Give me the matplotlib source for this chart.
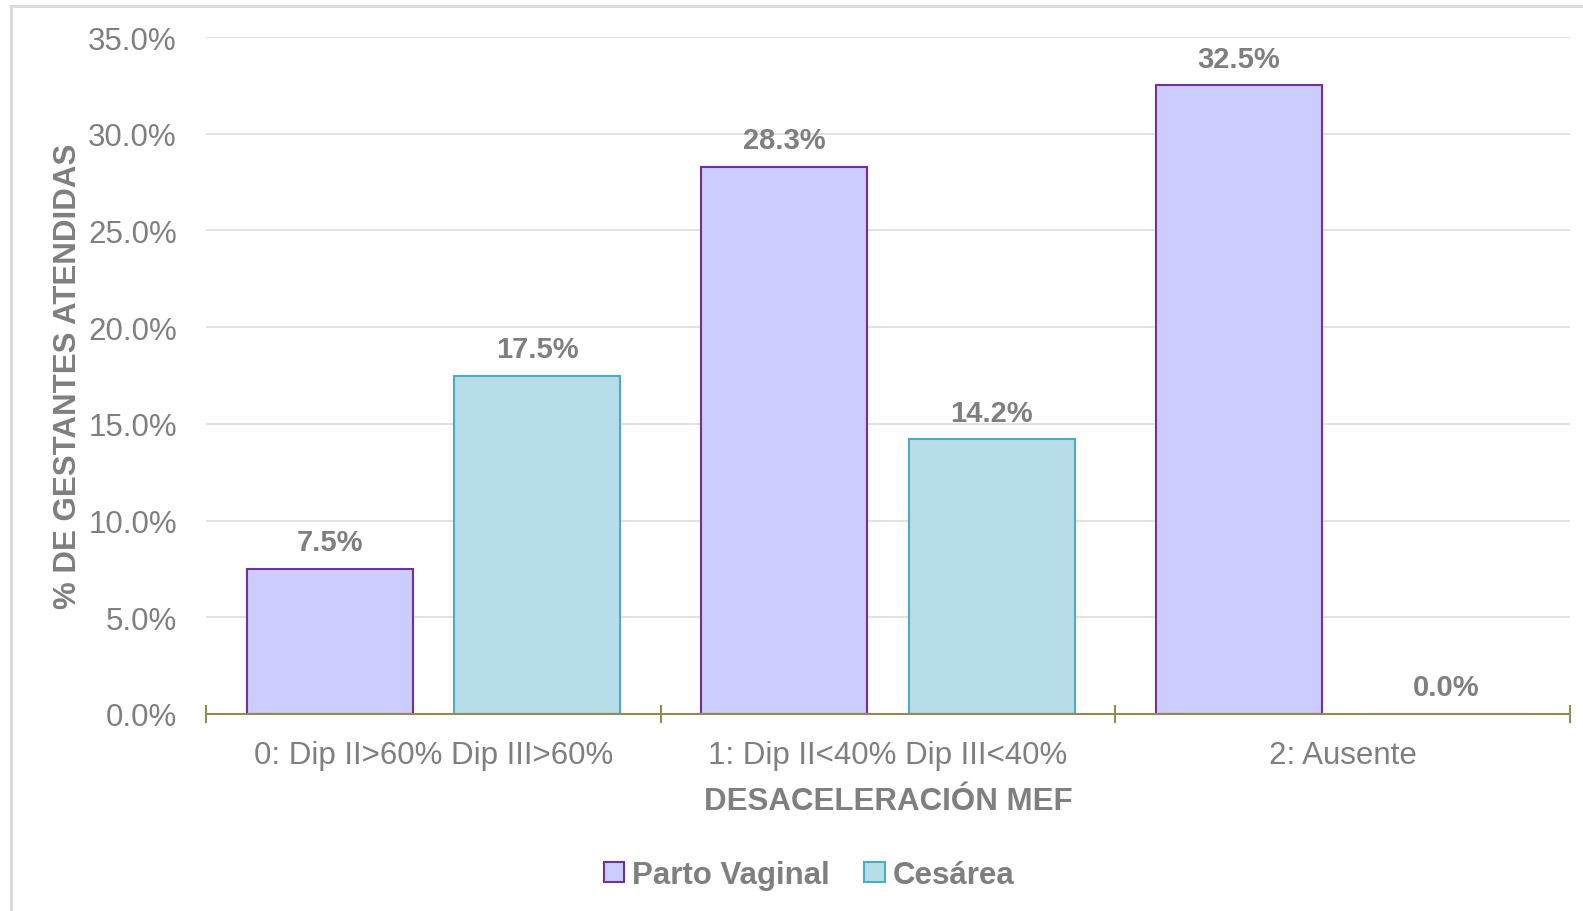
import matplotlib
matplotlib.use("Agg")
import matplotlib.pyplot as plt
from matplotlib.patches import Patch
from matplotlib.lines import Line2D
import numpy as np

categories = ["0: Dip II>60% Dip III>60%", "1: Dip II<40% Dip III<40%", "2: Ausente"]
series_names = ["Parto Vaginal", "Cesárea"]
parto_vaginal = [7.5, 28.3, 32.5]
cesarea = [17.5, 14.2, 0.0]
y_ticks = [0, 5, 10, 15, 20, 25, 30, 35]

GREY = "#7F7F7F"
PURPLE_FILL, PURPLE_EDGE = "#CCCCFF", "#7030A0"
TEAL_FILL, TEAL_EDGE = "#B7DEE8", "#4BACC6"
AXIS_COLOR = "#948A54"
GRID_COLOR = "#D9D9D9"

plt.rcParams["font.family"] = ["Liberation Sans", "DejaVu Sans"]

W, H = 1583, 912
fig = plt.figure(figsize=(W / 100, H / 100), dpi=100)
ax = fig.add_axes([206 / W, 1 - 715 / H, (1570 - 206) / W, (715 - 38) / H])

x = np.arange(len(categories))
bar_w = 0.365
offsets = [-0.228, 0.228]
series = [parto_vaginal, cesarea]
fills = [PURPLE_FILL, TEAL_FILL]
edges = [PURPLE_EDGE, TEAL_EDGE]

for vals, off, fc, ec in zip(series, offsets, fills, edges):
    bars = ax.bar(x + off, vals, width=bar_w, color=fc, edgecolor=ec,
                  linewidth=1.5, zorder=2)
    for b, v in zip(bars, vals):
        ax.annotate(f"{v:.1f}%", (b.get_x() + b.get_width() / 2, v),
                    xytext=(0, 9), textcoords="offset points",
                    ha="center", va="bottom", fontsize=21,
                    fontweight="bold", color=GREY, zorder=3)

ax.set_xlim(-0.5, len(categories) - 0.5)
ax.set_ylim(0, 35)
ax.set_yticks(y_ticks)
ax.set_yticklabels([f"{t:.1f}%" for t in y_ticks])
ax.yaxis.grid(True, color=GRID_COLOR, linewidth=1.1, zorder=0)
ax.set_axisbelow(True)

# category boundaries carry the tick marks, category centres carry the labels
ax.set_xticks(np.arange(-0.5, len(categories), 1.0))
ax.set_xticklabels([])
ax.set_xticks(x, minor=True)
ax.set_xticklabels(categories, minor=True)
ax.tick_params(axis="x", which="major", direction="inout", length=13,
               width=1.5, color=AXIS_COLOR)
ax.tick_params(axis="x", which="minor", length=0, pad=19,
               labelsize=22.5, labelcolor=GREY)
ax.tick_params(axis="y", length=0, pad=21, labelsize=22.5, labelcolor=GREY)

for side in ("top", "right", "left"):
    ax.spines[side].set_visible(False)
ax.spines["bottom"].set_color(AXIS_COLOR)
ax.spines["bottom"].set_linewidth(1.5)
ax.spines["bottom"].set_zorder(4)

ax.set_xlabel("DESACELERACIÓN MEF", fontsize=22.5, fontweight="bold",
              color=GREY, labelpad=11)
ax.set_ylabel("% DE GESTANTES ATENDIDAS", fontsize=22.5, fontweight="bold",
              color=GREY, labelpad=4)

handles = [Patch(facecolor=fc, edgecolor=ec, linewidth=1.5)
           for fc, ec in zip(fills, edges)]
fig.legend(handles, series_names, loc="center", ncol=2,
           bbox_to_anchor=(809 / W, 1 - 876 / H), frameon=False,
           prop={"size": 22.5, "weight": "bold"}, labelcolor=GREY,
           handlelength=0.65, handleheight=0.65, handletextpad=0.25,
           columnspacing=1.1)

# chart-area outline (left and top edges)
fig.add_artist(Line2D([10.5 / W, 10.5 / W], [0, 1 - 7 / H],
                      color=GRID_COLOR, linewidth=2, transform=fig.transFigure))
fig.add_artist(Line2D([10.5 / W, 1], [1 - 7 / H, 1 - 7 / H],
                      color=GRID_COLOR, linewidth=2, transform=fig.transFigure))

fig.savefig("out.png", dpi=100, facecolor="white")
